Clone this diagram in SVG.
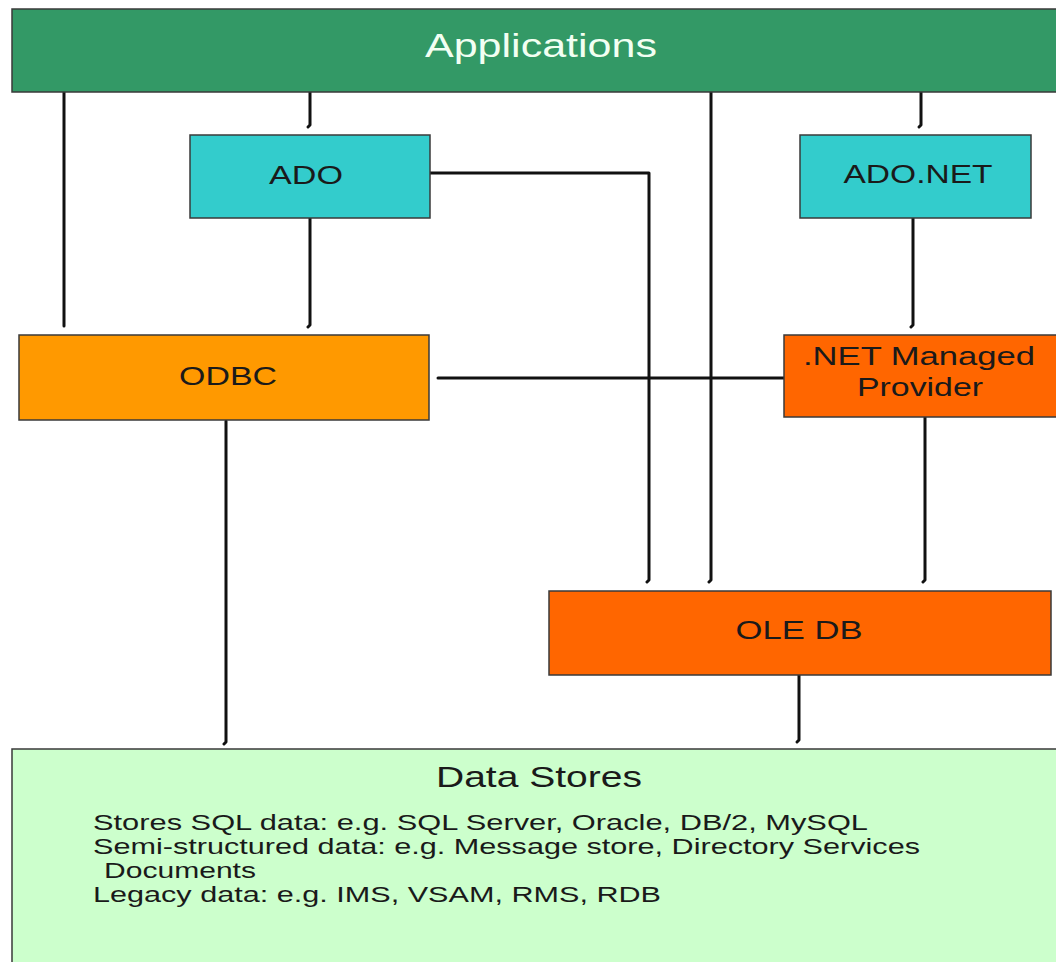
<svg xmlns="http://www.w3.org/2000/svg" width="1056" height="962" viewBox="0 0 1056 962">
  <defs>
    <style>
      .box { stroke: #3a3a3a; stroke-width: 1.5; }
      .apps { fill: #339966; }
      .ado { fill: #33cccc; }
      .odbc { fill: #ff9900; }
      .prov { fill: #ff6600; }
      .store { fill: #ccffcc; }
      .lbl { font-family: "Liberation Sans", Arial, sans-serif; font-size: 25px; fill: #1a1a1a; text-anchor: middle; }
      .title { font-size: 33px; fill: #f2fff2; }
      .body { font-family: "Liberation Sans", Arial, sans-serif; font-size: 22px; fill: #1a1a1a; }
      .wire { fill: none; stroke: #111; stroke-width: 3; stroke-linecap: round; stroke-linejoin: round; }
    </style>
  </defs>

  <rect width="1056" height="962" fill="#ffffff"/>

  <!-- connectors -->
  <g id="connectors" class="wire">
    <path d="M64 92 V326"/>
    <path d="M310 92 V125 l-2 2"/>
    <path d="M310 218 V325 l-2 2"/>
    <path d="M430 173 H649 V580 l-2 2"/>
    <path d="M711 92 V580 l-2 2"/>
    <path d="M921 92 V125 l-2 2"/>
    <path d="M913 218 V325 l-2 2"/>
    <path d="M438 378 H784"/>
    <path d="M925 417 V580 l-2 2"/>
    <path d="M226 421 V742 l-2 2"/>
    <path d="M799 675 V740 l-2 2"/>
  </g>

  <!-- applications layer -->
  <g id="applications">
    <rect class="box apps" x="12" y="9" width="1050" height="83"/>
    <text class="lbl title" x="541" y="57" textLength="232" lengthAdjust="spacingAndGlyphs">Applications</text>
  </g>

  <g id="ado">
    <rect class="box ado" x="190" y="135" width="240" height="83"/>
    <text class="lbl" x="306" y="184" textLength="74" lengthAdjust="spacingAndGlyphs">ADO</text>
  </g>

  <g id="adonet">
    <rect class="box ado" x="800" y="135" width="231" height="83"/>
    <text class="lbl" x="918" y="183" textLength="149" lengthAdjust="spacingAndGlyphs">ADO.NET</text>
  </g>

  <g id="odbc">
    <rect class="box odbc" x="19" y="335" width="410" height="85"/>
    <text class="lbl" x="228" y="385" textLength="98" lengthAdjust="spacingAndGlyphs">ODBC</text>
  </g>

  <g id="managed-provider">
    <rect class="box prov" x="784" y="335" width="280" height="82"/>
    <text class="lbl" x="919" y="365" textLength="232" lengthAdjust="spacingAndGlyphs">.NET Managed</text>
    <text class="lbl" x="920" y="396" textLength="126" lengthAdjust="spacingAndGlyphs">Provider</text>
  </g>

  <g id="oledb">
    <rect class="box prov" x="549" y="591" width="502" height="84"/>
    <text class="lbl" x="799" y="639" textLength="127" lengthAdjust="spacingAndGlyphs">OLE DB</text>
  </g>

  <!-- data stores layer -->
  <g id="data-stores">
    <rect class="box store" x="12" y="749" width="1060" height="230"/>
    <text class="lbl" x="539" y="787" style="font-size:29px" textLength="206" lengthAdjust="spacingAndGlyphs">Data Stores</text>
    <text class="body" x="93" y="830" textLength="775" lengthAdjust="spacingAndGlyphs">Stores SQL data: e.g. SQL Server, Oracle, DB/2, MySQL</text>
    <text class="body" x="93" y="854" textLength="827" lengthAdjust="spacingAndGlyphs">Semi-structured data: e.g. Message store, Directory Services</text>
    <text class="body" x="104" y="878" textLength="152" lengthAdjust="spacingAndGlyphs">Documents</text>
    <text class="body" x="93" y="902" textLength="568" lengthAdjust="spacingAndGlyphs">Legacy data: e.g. IMS, VSAM, RMS, RDB</text>
  </g>
</svg>
